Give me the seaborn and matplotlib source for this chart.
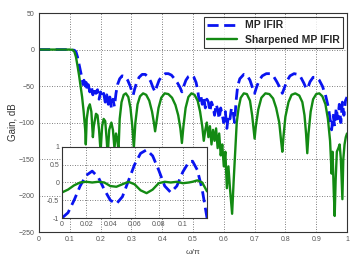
import pandas as pd
import seaborn as sns
import matplotlib.pyplot as plt

# main response, blue dashed curve (MP IFIR)
mp_w = [0, 0.02, 0.04, 0.06, 0.08, 0.10, 0.115, 0.12, 0.125, 0.13, 0.135, 0.14, 0.143, 0.146,
        0.15, 0.153, 0.157, 0.16, 0.165, 0.17, 0.175, 0.18, 0.185, 0.19, 0.195, 0.2, 0.205,
        0.21, 0.215, 0.22, 0.225, 0.23, 0.235, 0.24, 0.245, 0.25, 0.255, 0.262, 0.27, 0.28,
        0.288, 0.296, 0.302, 0.306, 0.31, 0.317, 0.325, 0.335, 0.345, 0.355, 0.363, 0.37,
        0.377, 0.383, 0.39, 0.4, 0.41, 0.42, 0.43, 0.44, 0.45, 0.458, 0.464, 0.47, 0.477,
        0.485, 0.495, 0.503, 0.51, 0.515, 0.52, 0.525, 0.53, 0.535, 0.54, 0.545, 0.55, 0.555,
        0.56, 0.565, 0.57, 0.575, 0.58, 0.585, 0.59, 0.595, 0.6, 0.605, 0.61, 0.615, 0.62,
        0.625, 0.63, 0.635, 0.64, 0.645, 0.652, 0.665, 0.675, 0.685, 0.693, 0.7, 0.706, 0.715,
        0.725, 0.738, 0.75, 0.762, 0.772, 0.782, 0.79, 0.797, 0.805, 0.815, 0.828, 0.84, 0.85,
        0.86, 0.868, 0.873, 0.88, 0.89, 0.9, 0.91, 0.92, 0.93, 0.94, 0.945, 0.95, 0.955, 0.96,
        0.965, 0.97, 0.975, 0.98, 0.985, 0.99, 0.995, 1.0]
mp_gain = [0, 0, 0, 0, 0, 0, -1, -3, -10, -20, -30, -40, -48, -42,
           -52, -45, -55, -48, -58, -50, -62, -52, -60, -55, -68, -58, -65,
           -60, -72, -62, -75, -65, -80, -68, -78, -60, -48, -40, -36, -37,
           -42, -50, -58, -62, -55, -45, -38, -34, -34, -38, -44, -52,
           -58, -50, -42, -36, -33, -33, -35, -40, -46, -52, -58, -50, -42,
           -37, -35, -38, -45, -55, -70, -62, -75, -65, -80, -68, -72, -85,
           -72, -78, -90, -75, -82, -95, -80, -90, -100, -85, -108, -90, -95,
           -80, -85, -100, -70, -50, -40, -34, -35, -42, -52, -60, -52, -42,
           -36, -33, -33, -37, -44, -52, -60, -52, -43, -36, -33, -34, -38,
           -46, -54, -52, -44, -38, -38, -42, -50, -62, -80, -95, -110, -90, -105,
           -80, -95, -75, -100, -72, -90, -70, -65]

# main response, green solid curve (Sharpened MP IFIR)
sh_w = [0, 0.02, 0.04, 0.06, 0.08, 0.10, 0.11, 0.115, 0.12, 0.125, 0.13, 0.135, 0.14, 0.145,
        0.15, 0.152, 0.155, 0.16, 0.165, 0.17, 0.175, 0.178, 0.185, 0.19, 0.195, 0.2, 0.205,
        0.21, 0.215, 0.22, 0.223, 0.228, 0.235, 0.24, 0.245, 0.25, 0.255, 0.258, 0.262, 0.268,
        0.275, 0.282, 0.29, 0.297, 0.303, 0.308, 0.313, 0.32, 0.328, 0.338, 0.348, 0.358,
        0.367, 0.373, 0.377, 0.381, 0.388, 0.397, 0.408, 0.42, 0.432, 0.443, 0.452, 0.459,
        0.464, 0.469, 0.476, 0.485, 0.495, 0.505, 0.515, 0.523, 0.53, 0.535, 0.54, 0.545,
        0.55, 0.555, 0.56, 0.565, 0.57, 0.575, 0.58, 0.585, 0.59, 0.595, 0.6, 0.605, 0.61,
        0.615, 0.62, 0.627, 0.632, 0.637, 0.642, 0.648, 0.655, 0.665, 0.675, 0.685, 0.692,
        0.697, 0.70, 0.704, 0.712, 0.722, 0.735, 0.748, 0.76, 0.77, 0.78, 0.786, 0.79, 0.794,
        0.8, 0.81, 0.82, 0.832, 0.845, 0.855, 0.862, 0.867, 0.871, 0.875, 0.882, 0.89, 0.9,
        0.91, 0.92, 0.93, 0.938, 0.945, 0.95, 0.953, 0.957, 0.96, 0.963, 0.967, 0.972, 0.976,
        0.98, 0.985, 0.988, 0.992, 0.996, 1.0]
sh_gain = [0, 0, 0, 0, 0, 0, -0.5, -3, -10, -22, -35, -50, -65, -85,
           -110, -130, -95, -80, -75, -85, -120, -105, -88, -90, -110, -140, -105,
           -95, -98, -125, -145, -110, -100, -110, -135, -115, -125, -140, -95, -72,
           -62, -60, -65, -80, -105, -135, -100, -75, -64, -60, -62, -70,
           -85, -100, -112, -100, -80, -66, -60, -61, -66, -76, -90, -108,
           -128, -105, -80, -65, -60, -62, -70, -85, -105, -125, -110, -100,
           -120, -105, -130, -110, -125, -108, -135, -115, -145, -130, -160, -140, -190,
           -160, -190, -225, -180, -140, -100, -80, -66, -60, -61, -70, -90,
           -110, -122, -105, -82, -66, -60, -61, -67, -80, -100, -125, -140, -118,
           -92, -72, -62, -60, -63, -72, -90, -115, -142, -115, -85, -68, -61,
           -60, -64, -75, -95, -125, -170, -140, -195, -228, -180, -140, -135, -130,
           -150, -205, -150, -130, -120, -115]

# passband detail (inset)
zoom_w = [0, 0.005, 0.01, 0.015, 0.02, 0.025, 0.03, 0.035, 0.04, 0.045, 0.05, 0.055, 0.06,
          0.065, 0.07, 0.075, 0.08, 0.085, 0.09, 0.095, 0.1, 0.105, 0.108, 0.112, 0.116, 0.12]
zoom_mp = [-1, -0.85, -0.5, -0.1, 0.2, 0.32, 0.15, -0.2, -0.5, -0.6, -0.4, 0.05, 0.5,
           0.82, 0.92, 0.75, 0.35, -0.1, -0.28, -0.1, 0.3, 0.58, 0.6, 0.35, -0.2, -1.0]
zoom_sh = [-0.28, -0.2, -0.08, 0, 0.02, 0, 0.02, 0, -0.1, -0.12, -0.05, 0.02, -0.05,
           -0.22, -0.3, -0.2, -0.02, 0.02, 0.0, 0.02, -0.02, 0.0, 0.02, 0.06, 0.0, -0.25]

x_ticks = [0, 0.1, 0.2, 0.3, 0.4, 0.5, 0.6, 0.7, 0.8, 0.9, 1]
x_labels = ["0", "0.1", "0.2", "0.3", "0.4", "0.5", "0.6", "0.7", "0.8", "0.9", "1"]
y_ticks = [50, 0, -50, -100, -150, -200, -250]
zx_ticks = [0, 0.02, 0.04, 0.06, 0.08, 0.1]
zx_labels = ["0", "0.02", "0.04", "0.06", "0.08", "0.1"]
zy_ticks = [-1, -0.5, 0, 0.5, 1]
zy_labels = ["-1", "-0.5", "0", "0.5", "1"]

sns.set_style("white")
plt.rcParams['font.family'] = ['Liberation Sans', 'DejaVu Sans']

blue = "#0a14f0"
green = "#138a13"
dash = (0, (4, 2))

fig = plt.figure(figsize=(3.59, 2.67), dpi=100)
ax = fig.add_axes([0.1086, 0.131, 0.858, 0.820])

df_mp = pd.DataFrame({"w": mp_w, "gain": mp_gain})
df_sh = pd.DataFrame({"w": sh_w, "gain": sh_gain})
sns.lineplot(data=df_mp, x="w", y="gain", ax=ax, color=blue, lw=2.0,
             linestyle=dash, label="MP IFIR")
sns.lineplot(data=df_sh, x="w", y="gain", ax=ax, color=green, lw=1.7,
             label="Sharpened MP IFIR")

ax.set_xlim(0, 1)
ax.set_ylim(-250, 50)
ax.set_xticks(x_ticks)
ax.set_xticklabels(x_labels)
ax.set_yticks(y_ticks)
ax.grid(True, linestyle=(0, (1, 2)), color="#555555", lw=0.6)
ax.tick_params(direction="in", length=2, labelsize=5, labelcolor="#555555", pad=3)
for s in ax.spines.values():
    s.set_color("#333333")
    s.set_linewidth(0.8)
ax.set_xlabel("ω/π", fontsize=6, color="#444444", labelpad=4)
ax.set_ylabel("Gain, dB", fontsize=7, color="#333333", labelpad=1)

leg = ax.legend(loc="upper right", frameon=True, fancybox=False,
                handlelength=2.8, borderaxespad=0.35, borderpad=0.35, labelspacing=0.4,
                prop={"weight": "bold", "size": 7.5})
leg.get_frame().set_edgecolor("black")
leg.get_frame().set_linewidth(0.8)

# inset with the passband ripple
ins = fig.add_axes([0.1727, 0.1835, 0.404, 0.266])
df_zoom = pd.DataFrame({"w": zoom_w, "mp": zoom_mp, "sh": zoom_sh})
sns.lineplot(data=df_zoom, x="w", y="mp", ax=ins, color=blue, lw=2.0, linestyle=dash)
sns.lineplot(data=df_zoom, x="w", y="sh", ax=ins, color=green, lw=1.7)
ins.set_facecolor("white")
ins.set_xlim(0, 0.12)
ins.set_ylim(-1, 1)
ins.set_xticks(zx_ticks)
ins.set_xticklabels(zx_labels)
ins.set_yticks(zy_ticks)
ins.set_yticklabels(zy_labels)
ins.set_xlabel("")
ins.set_ylabel("")
ins.grid(True, linestyle=(0, (1, 2)), color="#555555", lw=0.6)
ins.tick_params(direction="in", length=2, labelsize=5, labelcolor="#555555", pad=2)
for s in ins.spines.values():
    s.set_color("#333333")
    s.set_linewidth(0.8)

fig.savefig("out.png", dpi=100)
